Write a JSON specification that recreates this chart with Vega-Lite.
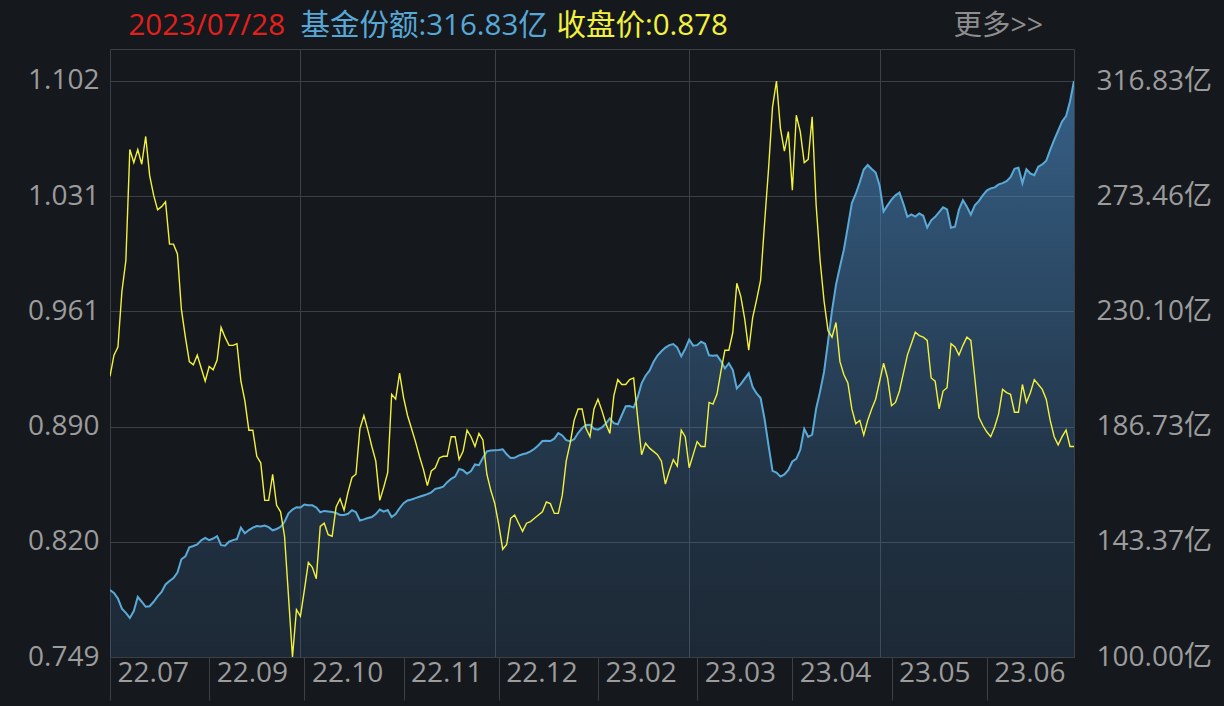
{
"$schema": "https://vega.github.io/schema/vega-lite/v6.json",
"width": 964,
"height": 608,
"autosize": {"type": "none"},
"padding": {"left": 110, "top": 49, "right": 150, "bottom": 49},
"background": "#15181d",
"config": {
  "font": "Open Sans, Noto Sans CJK SC",
  "view": {"stroke": "#3c3f45", "strokeWidth": 1},
  "axis": {"labelFont": "Open Sans, Noto Sans CJK SC", "titleFont": "Open Sans, Noto Sans CJK SC", "labelColor": "#9c9c9c", "labelFontSize": 28, "gridColor": "#3c3f45", "gridWidth": 1, "domain": false, "ticks": false, "titleFontWeight": "normal", "labelOverlap": false, "labelBound": false}
},
"data": {"values": [
{"d":"2022-07-28","p":0.921,"s":125.2},{"d":"2022-07-29","p":0.934,"s":124.1},
{"d":"2022-08-01","p":0.939,"s":122.0},{"d":"2022-08-02","p":0.973,"s":118.2},{"d":"2022-08-03","p":0.992,"s":116.6},{"d":"2022-08-04","p":1.060,"s":114.7},{"d":"2022-08-05","p":1.052,"s":117.3},
{"d":"2022-08-08","p":1.060,"s":122.6},{"d":"2022-08-09","p":1.051,"s":120.8},{"d":"2022-08-10","p":1.068,"s":118.9},{"d":"2022-08-11","p":1.044,"s":119.1},{"d":"2022-08-12","p":1.032,"s":120.8},
{"d":"2022-08-15","p":1.023,"s":122.8},{"d":"2022-08-16","p":1.025,"s":124.5},{"d":"2022-08-17","p":1.028,"s":127.3},{"d":"2022-08-18","p":1.002,"s":128.6},{"d":"2022-08-19","p":1.002,"s":129.7},
{"d":"2022-08-22","p":0.996,"s":131.8},{"d":"2022-08-23","p":0.962,"s":136.8},{"d":"2022-08-24","p":0.945,"s":137.9},{"d":"2022-08-25","p":0.930,"s":141.3},{"d":"2022-08-26","p":0.928,"s":141.8},
{"d":"2022-08-29","p":0.934,"s":142.4},{"d":"2022-08-30","p":0.926,"s":143.9},{"d":"2022-08-31","p":0.918,"s":144.8},
{"d":"2022-09-01","p":0.927,"s":144.0},{"d":"2022-09-02","p":0.925,"s":144.6},{"d":"2022-09-05","p":0.931,"s":145.5},{"d":"2022-09-06","p":0.951,"s":142.1},{"d":"2022-09-07","p":0.945,"s":141.9},
{"d":"2022-09-08","p":0.940,"s":143.4},{"d":"2022-09-09","p":0.940,"s":144.0},{"d":"2022-09-13","p":0.941,"s":144.4},{"d":"2022-09-14","p":0.918,"s":148.7},{"d":"2022-09-15","p":0.906,"s":146.6},
{"d":"2022-09-16","p":0.888,"s":147.8},{"d":"2022-09-19","p":0.888,"s":148.7},{"d":"2022-09-20","p":0.872,"s":149.3},{"d":"2022-09-21","p":0.868,"s":149.1},{"d":"2022-09-22","p":0.845,"s":149.5},
{"d":"2022-09-23","p":0.845,"s":148.9},{"d":"2022-09-26","p":0.861,"s":147.7},{"d":"2022-09-27","p":0.842,"s":148.2},{"d":"2022-09-28","p":0.838,"s":149.0},{"d":"2022-09-29","p":0.823,"s":150.9},
{"d":"2022-09-30","p":0.786,"s":154.1},
{"d":"2022-10-10","p":0.749,"s":155.5},{"d":"2022-10-11","p":0.778,"s":156.4},{"d":"2022-10-12","p":0.774,"s":156.3},{"d":"2022-10-13","p":0.790,"s":157.4},{"d":"2022-10-14","p":0.807,"s":157.1},
{"d":"2022-10-17","p":0.804,"s":157.1},{"d":"2022-10-18","p":0.797,"s":156.3},{"d":"2022-10-19","p":0.829,"s":154.5},{"d":"2022-10-20","p":0.831,"s":155.0},{"d":"2022-10-21","p":0.824,"s":154.8},
{"d":"2022-10-24","p":0.823,"s":154.6},{"d":"2022-10-25","p":0.841,"s":154.2},{"d":"2022-10-26","p":0.846,"s":153.5},{"d":"2022-10-27","p":0.839,"s":153.5},{"d":"2022-10-28","p":0.850,"s":153.9},
{"d":"2022-10-31","p":0.859,"s":155.3},
{"d":"2022-11-01","p":0.861,"s":154.5},{"d":"2022-11-02","p":0.889,"s":151.4},{"d":"2022-11-03","p":0.897,"s":151.8},{"d":"2022-11-04","p":0.888,"s":152.3},
{"d":"2022-11-07","p":0.878,"s":152.7},{"d":"2022-11-08","p":0.869,"s":153.8},{"d":"2022-11-09","p":0.845,"s":155.5},{"d":"2022-11-10","p":0.853,"s":154.7},{"d":"2022-11-11","p":0.862,"s":155.3},
{"d":"2022-11-14","p":0.910,"s":152.7},{"d":"2022-11-15","p":0.907,"s":153.8},{"d":"2022-11-16","p":0.923,"s":156.0},{"d":"2022-11-17","p":0.908,"s":157.9},{"d":"2022-11-18","p":0.897,"s":158.9},
{"d":"2022-11-21","p":0.889,"s":159.3},{"d":"2022-11-22","p":0.881,"s":159.8},{"d":"2022-11-23","p":0.872,"s":160.3},{"d":"2022-11-24","p":0.864,"s":160.8},{"d":"2022-11-25","p":0.854,"s":161.3},
{"d":"2022-11-28","p":0.863,"s":162.0},{"d":"2022-11-29","p":0.865,"s":163.3},{"d":"2022-11-30","p":0.871,"s":163.6},
{"d":"2022-12-01","p":0.872,"s":164.1},{"d":"2022-12-02","p":0.872,"s":165.8},
{"d":"2022-12-05","p":0.884,"s":167.1},{"d":"2022-12-06","p":0.884,"s":167.9},{"d":"2022-12-07","p":0.870,"s":170.8},{"d":"2022-12-08","p":0.875,"s":170.3},{"d":"2022-12-09","p":0.888,"s":169.0},
{"d":"2022-12-12","p":0.884,"s":170.0},{"d":"2022-12-13","p":0.878,"s":172.5},{"d":"2022-12-14","p":0.886,"s":172.2},{"d":"2022-12-15","p":0.882,"s":175.0},{"d":"2022-12-16","p":0.861,"s":177.4},
{"d":"2022-12-19","p":0.851,"s":177.7},{"d":"2022-12-20","p":0.843,"s":177.8},{"d":"2022-12-21","p":0.830,"s":177.9},{"d":"2022-12-22","p":0.815,"s":178.2},{"d":"2022-12-23","p":0.818,"s":176.3},
{"d":"2022-12-26","p":0.834,"s":174.9},{"d":"2022-12-27","p":0.836,"s":175.0},{"d":"2022-12-28","p":0.831,"s":175.8},{"d":"2022-12-29","p":0.826,"s":176.3},{"d":"2022-12-30","p":0.831,"s":176.7},
{"d":"2023-01-03","p":0.832,"s":177.4},{"d":"2023-01-04","p":0.834,"s":178.4},{"d":"2023-01-05","p":0.836,"s":179.7},{"d":"2023-01-06","p":0.838,"s":181.3},
{"d":"2023-01-09","p":0.844,"s":181.4},{"d":"2023-01-10","p":0.843,"s":181.3},{"d":"2023-01-11","p":0.837,"s":182.2},{"d":"2023-01-12","p":0.837,"s":184.3},{"d":"2023-01-13","p":0.848,"s":183.4},
{"d":"2023-01-16","p":0.869,"s":181.6},{"d":"2023-01-17","p":0.880,"s":181.2},{"d":"2023-01-18","p":0.894,"s":182.0},{"d":"2023-01-19","p":0.901,"s":184.3},{"d":"2023-01-20","p":0.901,"s":186.2},
{"d":"2023-01-30","p":0.889,"s":187.3},{"d":"2023-01-31","p":0.884,"s":187.4},
{"d":"2023-02-01","p":0.901,"s":185.9},{"d":"2023-02-02","p":0.907,"s":185.6},{"d":"2023-02-03","p":0.900,"s":186.4},
{"d":"2023-02-06","p":0.892,"s":187.9},{"d":"2023-02-07","p":0.886,"s":189.8},{"d":"2023-02-08","p":0.909,"s":188.0},{"d":"2023-02-09","p":0.919,"s":187.6},{"d":"2023-02-10","p":0.916,"s":191.0},
{"d":"2023-02-13","p":0.916,"s":194.4},{"d":"2023-02-14","p":0.919,"s":194.5},{"d":"2023-02-15","p":0.920,"s":193.9},{"d":"2023-02-16","p":0.896,"s":197.7},{"d":"2023-02-17","p":0.873,"s":203.0},
{"d":"2023-02-20","p":0.880,"s":205.9},{"d":"2023-02-21","p":0.877,"s":207.8},{"d":"2023-02-22","p":0.875,"s":211.1},{"d":"2023-02-23","p":0.873,"s":213.5},{"d":"2023-02-24","p":0.869,"s":215.1},
{"d":"2023-02-27","p":0.855,"s":216.5},{"d":"2023-02-28","p":0.863,"s":217.4},
{"d":"2023-03-01","p":0.870,"s":217.8},{"d":"2023-03-02","p":0.866,"s":216.5},{"d":"2023-03-03","p":0.888,"s":213.2},
{"d":"2023-03-06","p":0.884,"s":216.0},{"d":"2023-03-07","p":0.865,"s":219.5},{"d":"2023-03-08","p":0.873,"s":217.2},{"d":"2023-03-09","p":0.881,"s":217.4},{"d":"2023-03-10","p":0.878,"s":218.7},
{"d":"2023-03-13","p":0.878,"s":217.9},{"d":"2023-03-14","p":0.905,"s":213.6},{"d":"2023-03-15","p":0.904,"s":213.4},{"d":"2023-03-16","p":0.910,"s":213.6},{"d":"2023-03-17","p":0.924,"s":211.4},
{"d":"2023-03-20","p":0.937,"s":208.6},{"d":"2023-03-21","p":0.937,"s":210.6},{"d":"2023-03-22","p":0.948,"s":208.0},{"d":"2023-03-23","p":0.978,"s":201.1},{"d":"2023-03-24","p":0.970,"s":202.7},
{"d":"2023-03-27","p":0.956,"s":204.8},{"d":"2023-03-28","p":0.937,"s":206.8},{"d":"2023-03-29","p":0.957,"s":201.6},{"d":"2023-03-30","p":0.968,"s":199.2},{"d":"2023-03-31","p":0.980,"s":197.5},
{"d":"2023-04-03","p":1.015,"s":189.6},{"d":"2023-04-04","p":1.048,"s":179.7},{"d":"2023-04-06","p":1.086,"s":170.1},{"d":"2023-04-07","p":1.102,"s":169.4},
{"d":"2023-04-10","p":1.073,"s":167.9},{"d":"2023-04-11","p":1.059,"s":168.7},{"d":"2023-04-12","p":1.071,"s":170.4},{"d":"2023-04-13","p":1.035,"s":173.6},{"d":"2023-04-14","p":1.081,"s":174.6},
{"d":"2023-04-17","p":1.071,"s":178.0},{"d":"2023-04-18","p":1.052,"s":185.9},{"d":"2023-04-19","p":1.054,"s":182.9},{"d":"2023-04-20","p":1.080,"s":183.7},{"d":"2023-04-21","p":1.026,"s":193.5},
{"d":"2023-04-24","p":0.992,"s":200.0},{"d":"2023-04-25","p":0.967,"s":207.4},{"d":"2023-04-26","p":0.949,"s":218.7},{"d":"2023-04-27","p":0.945,"s":230.4},{"d":"2023-04-28","p":0.954,"s":240.1},
{"d":"2023-05-04","p":0.930,"s":246.9},{"d":"2023-05-05","p":0.922,"s":253.4},
{"d":"2023-05-08","p":0.917,"s":262.0},{"d":"2023-05-09","p":0.901,"s":270.9},{"d":"2023-05-10","p":0.892,"s":274.4},{"d":"2023-05-11","p":0.894,"s":278.7},{"d":"2023-05-12","p":0.885,"s":283.5},
{"d":"2023-05-15","p":0.894,"s":285.2},{"d":"2023-05-16","p":0.901,"s":283.7},{"d":"2023-05-17","p":0.907,"s":282.4},{"d":"2023-05-18","p":0.918,"s":277.5},{"d":"2023-05-19","p":0.929,"s":267.7},
{"d":"2023-05-22","p":0.920,"s":270.0},{"d":"2023-05-23","p":0.903,"s":272.2},{"d":"2023-05-24","p":0.905,"s":273.8},{"d":"2023-05-25","p":0.912,"s":274.8},{"d":"2023-05-26","p":0.923,"s":270.6},
{"d":"2023-05-29","p":0.934,"s":265.7},{"d":"2023-05-30","p":0.941,"s":266.6},{"d":"2023-05-31","p":0.948,"s":265.8},
{"d":"2023-06-01","p":0.946,"s":267.0},{"d":"2023-06-02","p":0.945,"s":266.1},
{"d":"2023-06-05","p":0.943,"s":261.7},{"d":"2023-06-06","p":0.920,"s":264.4},{"d":"2023-06-07","p":0.918,"s":265.7},{"d":"2023-06-08","p":0.901,"s":267.5},{"d":"2023-06-09","p":0.912,"s":269.3},
{"d":"2023-06-12","p":0.914,"s":268.5},{"d":"2023-06-13","p":0.941,"s":261.6},{"d":"2023-06-14","p":0.939,"s":262.0},{"d":"2023-06-15","p":0.934,"s":268.4},{"d":"2023-06-16","p":0.940,"s":272.0},
{"d":"2023-06-19","p":0.945,"s":269.5},{"d":"2023-06-20","p":0.943,"s":266.5},{"d":"2023-06-21","p":0.920,"s":270.0},
{"d":"2023-06-26","p":0.896,"s":271.6},{"d":"2023-06-27","p":0.891,"s":273.8},{"d":"2023-06-28","p":0.887,"s":275.6},{"d":"2023-06-29","p":0.884,"s":276.4},{"d":"2023-06-30","p":0.890,"s":276.8},
{"d":"2023-07-03","p":0.898,"s":277.9},{"d":"2023-07-04","p":0.913,"s":278.4},{"d":"2023-07-05","p":0.911,"s":279.1},{"d":"2023-07-06","p":0.910,"s":280.6},{"d":"2023-07-07","p":0.899,"s":283.8},
{"d":"2023-07-10","p":0.899,"s":284.2},{"d":"2023-07-11","p":0.916,"s":278.4},{"d":"2023-07-12","p":0.905,"s":283.6},{"d":"2023-07-13","p":0.911,"s":282.0},{"d":"2023-07-14","p":0.919,"s":281.4},
{"d":"2023-07-17","p":0.916,"s":284.6},{"d":"2023-07-18","p":0.913,"s":285.4},{"d":"2023-07-19","p":0.907,"s":286.8},{"d":"2023-07-20","p":0.894,"s":290.9},{"d":"2023-07-21","p":0.884,"s":294.7},
{"d":"2023-07-24","p":0.879,"s":298.1},{"d":"2023-07-25","p":0.884,"s":301.6},{"d":"2023-07-26","p":0.888,"s":303.6},{"d":"2023-07-27","p":0.878,"s":309.2},{"d":"2023-07-28","p":0.878,"s":316.83}
]},
"layer": [
  {
    "mark": {"type": "area", "clip": true, "color": {"gradient": "linear", "x1": 0, "y1": 0, "x2": 0, "y2": 1, "stops": [{"offset": 0, "color": "rgba(74,140,200,0.62)"}, {"offset": 0.5, "color": "rgba(74,140,200,0.22)"}, {"offset": 1, "color": "rgba(74,140,200,0.0)"}]}},
    "encoding": {
      "x": {"field": "d", "type": "ordinal", "scale": {"type": "point", "padding": 0},
        "axis": {"orient": "bottom", "values": ["2022-07-28","2022-09-01","2022-10-13","2022-11-17","2022-12-21","2023-02-02","2023-03-09","2023-04-13","2023-05-23","2023-06-28"],
          "labelExpr": "substring(datum.value, 2, 4) + '.' + substring(datum.value, 5, 7)",
          "labelAngle": 0, "labelAlign": "left", "labelBaseline": "middle", "labelOffset": 7, "labelPadding": -27,
          "ticks": true, "tickSize": 43, "tickColor": "#3c3f45", "tickWidth": 1, "grid": false, "domain": false,
          "title": "2023/07/28", "titleColor": "#e3201b", "titleFontSize": 29.5, "titleAngle": 0, "titleX": 18, "titleY": -623, "titleAlign": "left", "titleBaseline": "alphabetic", "titleAnchor": "start"}},
      "y": {"field": "s", "type": "quantitative", "scale": {"domain": [100, 328.88], "zero": false, "nice": false},
        "axis": {"orient": "right", "values": [100, 143.366, 186.732, 230.098, 273.464, 316.83],
          "labelExpr": "format(datum.value, '.2f') + '亿'", "grid": false, "labelPadding": 22, "labelBaseline": "middle",
          "title": "更多>>", "titleColor": "#8e8e8e", "titleFontSize": 28.5, "titleAngle": 0, "titleX": -121, "titleY": -15, "titleAlign": "left", "titleBaseline": "alphabetic", "titleAnchor": "start"}}
    }
  },
  {
    "mark": {"type": "line", "color": "#5aaad8", "strokeWidth": 2, "clip": true},
    "encoding": {
      "x": {"field": "d", "type": "ordinal", "scale": {"type": "point", "padding": 0}, "axis": null},
      "y": {"field": "s", "type": "quantitative", "scale": {"domain": [100, 328.88], "zero": false, "nice": false}, "axis": null}
    }
  },
  {
    "mark": {"type": "line", "color": "#f2f23c", "strokeWidth": 1.4, "clip": true},
    "encoding": {
      "x": {"field": "d", "type": "ordinal", "scale": {"type": "point", "padding": 0},
        "axis": {"orient": "top", "values": ["2022-10-12","2022-12-20","2023-03-07","2023-05-18"], "grid": true, "labels": false, "ticks": false, "domain": false,
          "title": "基金份额:316.83亿", "titleColor": "#57a8d6", "titleFontSize": 29.5, "titleAngle": 0, "titleX": 190, "titleY": -15, "titleAlign": "left", "titleBaseline": "alphabetic", "titleAnchor": "start"}},
      "y": {"field": "p", "type": "quantitative", "scale": {"domain": [0.749, 1.1216], "zero": false, "nice": false},
        "axis": {"orient": "left", "values": [0.749, 0.8196, 0.8902, 0.9608, 1.0314, 1.102], "format": ".3f", "grid": true, "labelPadding": 11, "labelBaseline": "middle",
          "title": "收盘价:0.878", "titleColor": "#f2f23c", "titleFontSize": 29.5, "titleAngle": 0, "titleX": 446, "titleY": -15, "titleAlign": "left", "titleBaseline": "alphabetic", "titleAnchor": "start"}}
    }
  }
],
"resolve": {"scale": {"y": "independent"}, "axis": {"x": "independent", "y": "independent"}}
}
